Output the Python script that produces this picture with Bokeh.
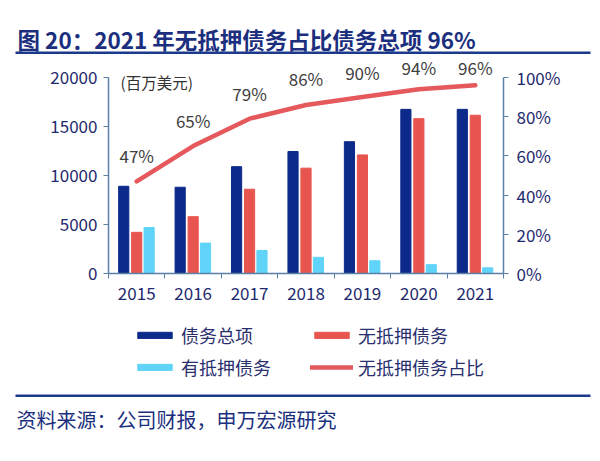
from bokeh.plotting import figure
from bokeh.models import (Range1d, LinearAxis, FixedTicker, Label, BoxAnnotation,
                          Legend, LegendItem, ColumnDataSource, NumeralTickFormatter)
from bokeh.transform import dodge
from bokeh.core.properties import value
from bokeh.embed import file_html
from bokeh.resources import INLINE

# ---- data ----
years = [2015, 2016, 2017, 2018, 2019, 2020, 2021]
total_debt = [8900, 8800, 10900, 12450, 13450, 16750, 16750]
unsecured = [4200, 5800, 8600, 10750, 12100, 15800, 16150]
secured = [4700, 3100, 2350, 1650, 1300, 900, 580]
unsecured_pct = [47, 65, 79, 86, 90, 94, 96]
left_ticks = [0, 5000, 10000, 15000, 20000]
right_ticks = [0, 20, 40, 60, 80, 100]
title_text = "图 20：2021 年无抵押债务占比债务总项 96%"
unit_text = "(百万美元)"
source_text = "资料来源：公司财报，申万宏源研究"
series_names = ["债务总项", "无抵押债务", "有抵押债务", "无抵押债务占比"]

# ---- layout / styles ----
W, H = 600, 461               # canvas (frame covers all of it)
PL, PR, PT, PB = 108, 503, 77, 273   # plot-area box inside canvas (px from top-left)
label_offsets = [-26, -26, -25, -26, -25, -22, -18]
FONT = "Noto Sans CJK SC"
NAVY = "#0b2a8a"
RED = "#e8554f"
CYAN = "#5fd4f8"
LINE = "#e5585c"
TXT = "#1f2a6e"
AXIS = "#5a80a8"
HEAD = "#1b2f7e"
RULE = "#1b3a8c"

x0, x1 = years[0] - 0.5, years[-1] + 0.5
xpx = (PR - PL) / (x1 - x0)
ypx = (PB - PT) / left_ticks[-1]
rpx = (PB - PT) / right_ticks[-1]

src = ColumnDataSource(dict(
    year=years, total=total_debt, unsec=unsecured, sec=secured,
    pct=unsecured_pct, lab=[f"{v}%" for v in unsecured_pct], off=label_offsets,
))

p = figure(width=W, height=H, output_backend="svg", toolbar_location=None,
           x_range=Range1d(x0 - PL / xpx, x1 + (W - PR) / xpx),
           y_range=Range1d(-(H - PB) / ypx, left_ticks[-1] + PT / ypx),
           min_border=0, min_border_left=0, min_border_right=0,
           min_border_top=0, min_border_bottom=0)
p.extra_y_ranges = {"pct": Range1d(-(H - PB) / rpx, right_ticks[-1] + PT / rpx)}
p.outline_line_color = None
p.xgrid.visible = False
p.ygrid.visible = False

r_total = p.vbar(x=dodge("year", -0.23, range=p.x_range), top="total", width=0.18,
                 source=src, color=NAVY)
r_unsec = p.vbar(x=dodge("year", 0.0, range=p.x_range), top="unsec", width=0.18,
                 source=src, color=RED)
r_sec = p.vbar(x=dodge("year", 0.22, range=p.x_range), top="sec", width=0.18,
               source=src, color=CYAN)
r_line = p.line(x="year", y="pct", source=src, y_range_name="pct",
                line_color=LINE, line_width=4.5, line_cap="round", line_join="round")
p.text(x="year", y="pct", text="lab", source=src, y_range_name="pct",
       y_offset="off", text_align="center", text_baseline="middle",
       text_font=value(FONT), text_font_size="17px", text_color="#404040")


def style_axis(a):
    a.major_tick_in = 0
    a.minor_tick_in = 0
    a.axis_line_color = AXIS
    a.axis_line_width = 1.5
    a.major_tick_line_color = AXIS
    a.minor_tick_line_color = AXIS
    a.major_label_text_font = FONT
    a.major_label_text_font_size = "17px"
    a.major_label_text_color = TXT


xa = p.xaxis[0]
style_axis(xa)
xa.fixed_location = 0
xa.bounds = (x0, x1)
xa.ticker = FixedTicker(ticks=years, minor_ticks=[y - 0.5 for y in years] + [x1])
xa.major_tick_out = 0
xa.minor_tick_out = 5
xa.major_label_standoff = 8

ya = p.yaxis[0]
style_axis(ya)
ya.fixed_location = x0
ya.bounds = (left_ticks[0], left_ticks[-1])
ya.ticker = FixedTicker(ticks=left_ticks)
ya.major_tick_out = 5
ya.minor_tick_out = 0
ya.major_label_standoff = 6

ra = LinearAxis(y_range_name="pct", ticker=FixedTicker(ticks=right_ticks),
                formatter=NumeralTickFormatter(format="0"),
                bounds=(right_ticks[0], right_ticks[-1]), fixed_location=x1)
style_axis(ra)
ra.major_label_overrides = {t: f"{t}%" for t in right_ticks}
ra.major_tick_out = 5
ra.minor_tick_out = 0
ra.major_label_standoff = 8
p.add_layout(ra, "right")

# texts and rules (screen units: from left / from bottom of canvas)
p.add_layout(Label(x=120, y=H - 81, x_units="screen", y_units="screen", text=unit_text,
                   text_font=FONT, text_font_size="15.5px", text_color="#333333",
                   text_baseline="middle"))
p.add_layout(Label(x=17, y=H - 38, x_units="screen", y_units="screen", text=title_text,
                   text_font=FONT, text_font_size="22.5px", text_font_style="bold",
                   text_color=HEAD, text_baseline="middle"))
p.add_layout(BoxAnnotation(left=15, right=590, top=H - 51, bottom=H - 53.5,
                           left_units="screen", right_units="screen",
                           top_units="screen", bottom_units="screen",
                           fill_color=RULE, fill_alpha=1, line_color=None, level="overlay"))
p.add_layout(BoxAnnotation(left=15, right=590, top=H - 394, bottom=H - 396.5,
                           left_units="screen", right_units="screen",
                           top_units="screen", bottom_units="screen",
                           fill_color=RULE, fill_alpha=1, line_color=None, level="overlay"))
p.add_layout(Label(x=16, y=H - 419, x_units="screen", y_units="screen", text=source_text,
                   text_font=FONT, text_font_size="20px",
                   text_color=HEAD, text_baseline="middle"))

legend = Legend(items=[
    LegendItem(label=series_names[0], renderers=[r_total]),
    LegendItem(label=series_names[2], renderers=[r_sec]),
    LegendItem(label=series_names[1], renderers=[r_unsec]),
    LegendItem(label=series_names[3], renderers=[r_line]),
], location=(133, H - 380), ncols=2, glyph_width=43, glyph_height=8,
    label_standoff=5, label_width=123, label_height=20, spacing=6,
    padding=0, margin=0, border_line_color=None, background_fill_alpha=0,
    label_text_font=FONT, label_text_font_size="18px", label_text_color="#2a2f6e")
p.add_layout(legend, "center")

open("out.html", "w").write(file_html(p, INLINE))
